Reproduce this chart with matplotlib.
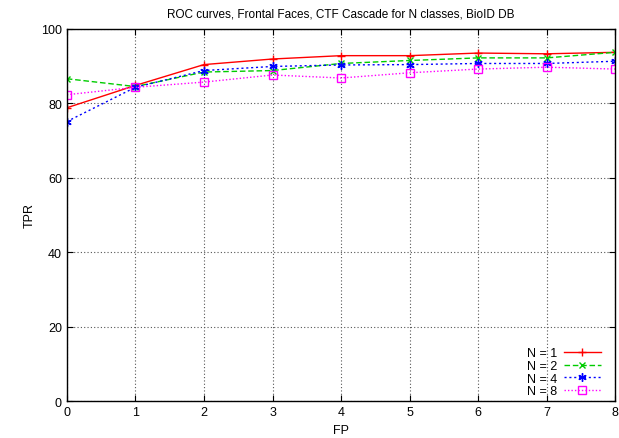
import matplotlib
matplotlib.use("Agg")
import matplotlib.pyplot as plt

plt.rcParams['font.family'] = ['Liberation Sans', 'DejaVu Sans']

fp = [0, 1, 2, 3, 4, 5, 6, 7, 8]
tpr_n1 = [78.8, 84.8, 90.4, 91.9, 92.8, 92.8, 93.5, 93.3, 93.7]
tpr_n2 = [86.6, 84.5, 88.4, 88.8, 90.7, 91.5, 92.2, 92.2, 93.7]
tpr_n4 = [75.1, 84.3, 88.8, 89.9, 90.3, 90.4, 90.7, 90.7, 91.3]
tpr_n8 = [82.3, 84.3, 85.7, 87.6, 86.8, 88.2, 89.2, 89.7, 89.2]

fig = plt.figure(figsize=(6.19, 4.39), dpi=100)
ax = fig.add_axes([0.108, 0.084, 0.886, 0.848])

ax.plot(fp, tpr_n1, color='#ff0000', lw=1, ls='-', marker='+', ms=6, mew=1, label='N = 1')
ax.plot(fp, tpr_n2, color='#00cc00', lw=1, ls=(0, (4, 2)), marker='x', ms=5, mew=1, label='N = 2')
ax.plot(fp, tpr_n4, color='#0000ff', lw=1, ls=(0, (1.5, 2)), marker=(6, 2, 0), ms=6, mew=1, label='N = 4')
ax.plot(fp, tpr_n8, color='#ff00ff', lw=1, ls=(0, (1, 1.5)), marker='s', ms=6, mew=1, mfc='none', label='N = 8')

ax.set_xlim(0, 8)
ax.set_ylim(0, 100)
ax.set_xticks(fp)
ax.set_yticks([0, 20, 40, 60, 80, 100])
ax.grid(True, color='#555555', ls=(0, (1, 2)), lw=0.8)
ax.tick_params(direction='in', labelsize=9, length=4, top=True, right=True)
for s in ax.spines.values():
    s.set_linewidth(1)
ax.set_xlabel('FP', fontsize=9)
ax.set_ylabel('TPR', fontsize=9)
ax.set_title('ROC curves, Frontal Faces, CTF Cascade for N classes, BioID DB', fontsize=8.5, pad=9)

leg = ax.legend(loc='lower right', bbox_to_anchor=(0.989, -0.013), markerfirst=False,
                frameon=False, fontsize=9, handlelength=2.9, handletextpad=0.6,
                labelspacing=0.05, borderaxespad=0.3)

fig.savefig('out.png', dpi=100)
